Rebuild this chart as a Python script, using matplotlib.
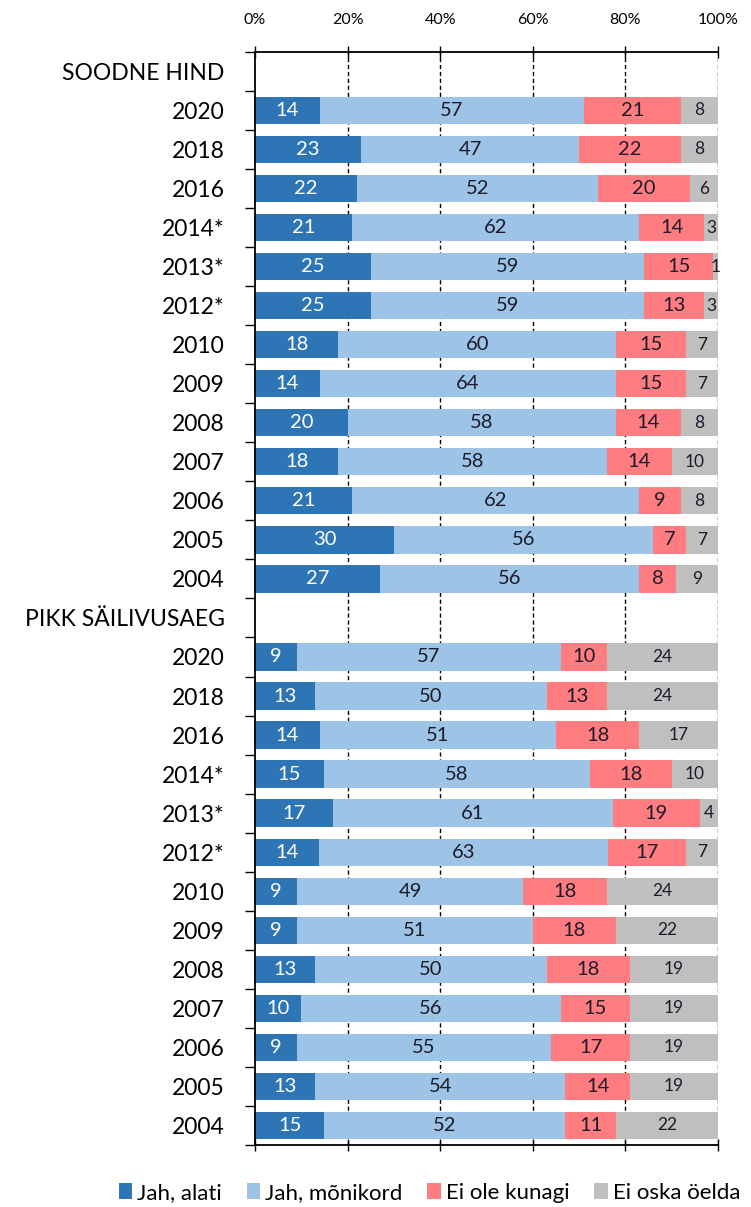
import numpy as np
import matplotlib
matplotlib.use("Agg")
import matplotlib.pyplot as plt
from matplotlib.ticker import MultipleLocator, FixedLocator, PercentFormatter

plt.rcParams['font.family'] = ['Lato', 'DejaVu Sans']

#### data ####
years = ["2020", "2018", "2016", "2014*", "2013*", "2012*", "2010",
         "2009", "2008", "2007", "2006", "2005", "2004"]
groups = ["SOODNE HIND", "PIKK SÄILIVUSAEG"]
series = ["Jah, alati", "Jah, mõnikord", "Ei ole kunagi", "Ei oska öelda"]
colors = ["#2E75B6", "#9DC3E6", "#FF7C80", "#BFBFBF"]

soodne_alati = [14, 23, 22, 21, 25, 25, 18, 14, 20, 18, 21, 30, 27]
soodne_monikord = [57, 47, 52, 62, 59, 59, 60, 64, 58, 58, 62, 56, 56]
soodne_ei_ole = [21, 22, 20, 14, 15, 13, 15, 15, 14, 14, 9, 7, 8]
soodne_ei_oska = [8, 8, 6, 3, 1, 3, 7, 7, 8, 10, 8, 7, 9]

pikk_alati = [9, 13, 14, 15, 17, 14, 9, 9, 13, 10, 9, 13, 15]
pikk_monikord = [57, 50, 51, 58, 61, 63, 49, 51, 50, 56, 55, 54, 52]
pikk_ei_ole = [10, 13, 18, 18, 19, 17, 18, 18, 18, 15, 17, 14, 11]
pikk_ei_oska = [24, 24, 17, 10, 4, 7, 24, 22, 19, 19, 19, 19, 22]

# rows: header + years for each group (header row has no bar)
labels = [groups[0]] + years + [groups[1]] + years
vals = np.array([
    [0] + soodne_alati + [0] + pikk_alati,
    [0] + soodne_monikord + [0] + pikk_monikord,
    [0] + soodne_ei_ole + [0] + pikk_ei_ole,
    [0] + soodne_ei_oska + [0] + pikk_ei_oska,
], dtype=float)
tot = vals.sum(axis=0)
tot[tot == 0] = 1
shares = vals / tot * 100  # 100% stacked

fig = plt.figure(figsize=(7.51, 12.07), dpi=100)
ax = fig.add_axes([0.3395, 0.0514, 0.956 - 0.3395, 0.957 - 0.0514])

y = np.arange(len(labels))
left = np.zeros(len(labels))
for k in range(4):
    ax.barh(y, shares[k], 0.7, left=left, color=colors[k], label=series[k], zorder=2)
    for i in range(len(labels)):
        if vals[k][i] > 0:
            ax.text(left[i] + shares[k][i] / 2, y[i], str(int(vals[k][i])),
                    ha='center', va='center', fontsize=14.5 if k < 3 else 12.5,
                    color='white' if k == 0 else '#1c1c2a', zorder=3)
    left += shares[k]

ax.set_xlim(0, 100)
ax.set_ylim(len(labels) - 0.5, -0.5)

# x axis on top
ax.xaxis.tick_top()
ax.xaxis.set_major_locator(MultipleLocator(20))
ax.xaxis.set_major_formatter(PercentFormatter(decimals=0))
ax.tick_params(axis='x', which='major', top=True, bottom=True, direction='inout',
               length=8, width=1, labelsize=11.5, pad=14, colors='black')
for x in [20, 40, 60, 80, 100]:
    ax.axvline(x, color='black', lw=1, ls=(0, (3, 2)), zorder=1)

# y axis labels and boundary ticks
ax.set_yticks(y)
ax.set_yticklabels(labels, fontsize=16.5)
ax.yaxis.set_minor_locator(FixedLocator(np.arange(-0.5, len(labels), 1)))
ax.tick_params(axis='y', which='major', length=0, pad=22)
ax.tick_params(axis='y', which='minor', length=7, width=1, direction='out')

ax.spines['right'].set_visible(False)
for s in ['left', 'top', 'bottom']:
    ax.spines[s].set_linewidth(1.3)

ax.legend(loc='center', ncol=4, frameon=False, fontsize=16,
          bbox_to_anchor=(0.572, 1 - 1193 / 1207), bbox_transform=fig.transFigure,
          handlelength=0.6, handleheight=0.7, handletextpad=0.25, columnspacing=1.1)

fig.savefig("out.png", dpi=100)
